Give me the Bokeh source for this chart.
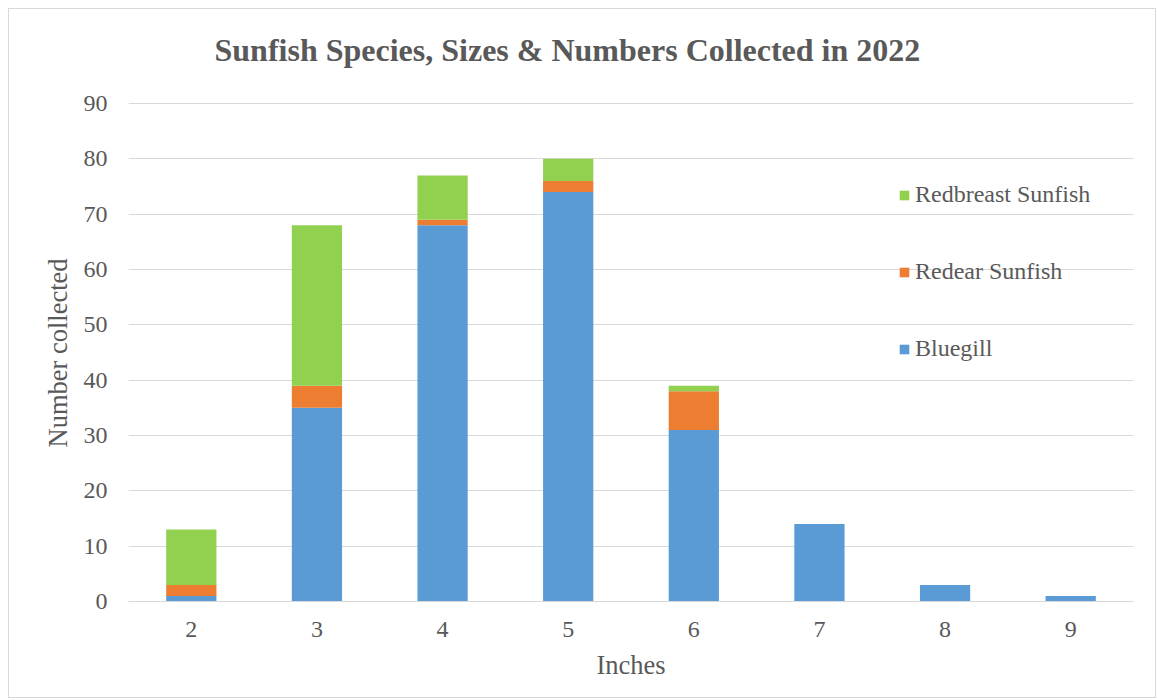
from bokeh.plotting import figure
from bokeh.models import ColumnDataSource, Range1d, FixedTicker, Legend, LegendItem, Label, Title
from bokeh.embed import file_html
from bokeh.resources import INLINE

inches = [2, 3, 4, 5, 6, 7, 8, 9]
bluegill = [1, 35, 68, 74, 31, 14, 3, 1]
redear = [2, 4, 1, 2, 7, 0, 0, 0]
redbreast = [10, 29, 8, 4, 1, 0, 0, 0]
series = ["Bluegill", "Redear Sunfish", "Redbreast Sunfish"]
colors = ["#5B9BD5", "#ED7D31", "#92D050"]
y_ticks = [0, 10, 20, 30, 40, 50, 60, 70, 80, 90]
title_text = "Sunfish Species, Sizes & Numbers Collected in 2022"
x_title = "Inches"
y_title = "Number collected"

src = ColumnDataSource(dict(x=inches, Bluegill=bluegill,
                            **{"Redear Sunfish": redear, "Redbreast Sunfish": redbreast}))

FONT = "Liberation Serif"
GRAY = "#595959"

# frame extends above the 90 gridline to leave room for the title inside it
FRAME_TOP_PAD = 84           # px between top of frame and the 90 gridline
PLOT_H = 498                 # px from 0 to 90
y_top = 90 * (PLOT_H + FRAME_TOP_PAD) / PLOT_H

p = figure(width=1148, height=690, output_backend="svg", toolbar_location=None,
           x_range=Range1d(1.5, 9.5), y_range=Range1d(0, y_top),
           min_border_left=119, min_border_right=24, min_border_top=10, min_border_bottom=98)
p.styles = {"border": "1px solid #d9d9d9", "margin-left": "8px", "margin-top": "8px"}

renderers = p.vbar_stack(series, x="x", width=0.4, source=src, color=colors, line_width=0)

title = Label(x=86, y=552, x_units="screen", y_units="screen", text=title_text,
              text_font=FONT, text_font_size="32px", text_font_style="bold",
              text_color=GRAY, text_baseline="alphabetic", text_align="left")
p.add_layout(title)

p.outline_line_color = None
p.xgrid.grid_line_color = None
p.ygrid.grid_line_color = "#d9d9d9"
p.ygrid.grid_line_width = 1

p.xaxis.ticker = FixedTicker(ticks=inches)
p.yaxis.ticker = FixedTicker(ticks=y_ticks)
p.xaxis.axis_label = x_title
for ax in (p.xaxis[0], p.yaxis[0]):
    ax.major_tick_line_color = None
    ax.minor_tick_line_color = None
    ax.major_label_text_font = FONT
    ax.major_label_text_font_size = "24px"
    ax.major_label_text_color = GRAY
    ax.axis_label_text_font = FONT
    ax.axis_label_text_font_size = "26.5px"
    ax.axis_label_text_color = GRAY
    ax.axis_label_text_font_style = "normal"
p.xaxis.axis_line_color = "#d9d9d9"
p.yaxis.axis_line_color = None
p.xaxis.major_label_standoff = 14
p.yaxis.major_label_standoff = 15
p.xaxis.axis_label_standoff = 10

# y-axis title, positioned along the 0-90 span (not the padded frame)
ylab = Title(text=y_title, align="left", offset=154, standoff=16,
             text_font=FONT, text_font_size="26.5px", text_font_style="normal",
             text_color=GRAY)
p.add_layout(ylab, "left")

items = [LegendItem(label=s, renderers=[r]) for s, r in zip(series, renderers)][::-1]
legend = Legend(items=items, location=(770, 239), orientation="vertical",
                glyph_width=12, glyph_height=12, label_text_font=FONT,
                label_text_font_size="24px", label_text_color=GRAY,
                label_standoff=5, spacing=50, padding=0, margin=0,
                border_line_color=None, background_fill_alpha=0)
p.add_layout(legend, "center")

open("out.html", "w").write(file_html(p, INLINE))
